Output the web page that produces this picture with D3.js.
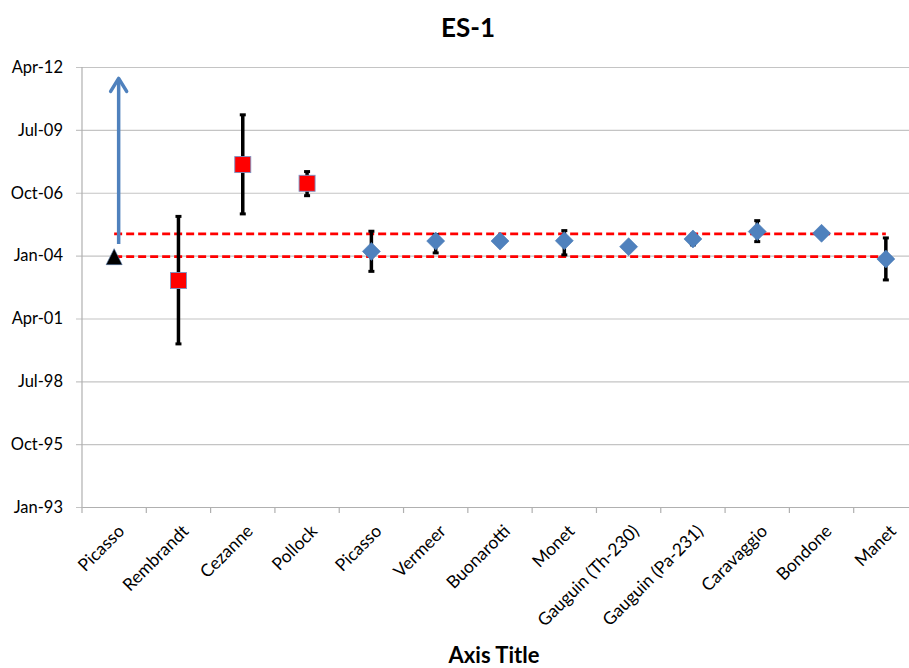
<!DOCTYPE html>
<html>
<head>
<meta charset="utf-8">
<script src="https://cdn.jsdelivr.net/npm/d3@7"></script>
<style>
  html, body { margin: 0; padding: 0; background: #fff; }
  svg { display: block; }
  text { font-family: Lato, "Open Sans", sans-serif; fill: #000; }
</style>
</head>
<body>
<svg id="chart" width="909" height="668"></svg>
<script>
// ---- data ----
const categories = ["Picasso","Rembrandt","Cezanne","Pollock","Picasso","Vermeer","Buonarotti","Monet","Gauguin (Th-230)","Gauguin (Pa-231)","Caravaggio","Bondone","Manet"];
const yTicks = ["1993-01-01","1995-10-01","1998-07-01","2001-04-01","2004-01-01","2006-10-01","2009-07-01","2012-04-01"];
const yDomain = ["1993-01-01","2012-04-01"];

// black triangle (category index 0)
const triangleIdx = [0];
const triangleVal = ["2003-12-15"];

// blue arrow (category index 0): from / to
const arrowIdx = [0];
const arrowFrom = ["2004-07-05"];
const arrowTo = ["2011-10-18"];

// red squares
const squareIdx = [1, 2, 3];
const squareVal = ["2002-11-28", "2007-12-25", "2007-03-01"];
const squareLow = ["2000-02-20", "2005-10-28", "2006-08-15"];
const squareHigh = ["2005-09-18", "2010-02-27", "2007-09-04"];

// blue diamonds
const diamondIdx = [4, 5, 6, 7, 8, 9, 10, 11, 12];
const diamondVal = ["2004-03-08","2004-08-20","2004-08-20","2004-08-25","2004-05-22","2004-09-22","2005-01-18","2004-12-22","2003-11-08"];
const diamondLow = ["2003-04-24","2004-02-13","2004-07-10","2004-01-12","2004-05-22","2004-06-20","2004-08-11","2004-11-20","2002-12-08"];
const diamondHigh = ["2005-01-24","2004-12-01","2004-10-01","2005-02-03","2004-05-22","2004-12-01","2005-07-12","2005-01-25","2004-10-09"];

// red dashed reference lines (from first to last category)
const refLines = ["2004-12-13", "2003-12-15"];
const refFromIdx = 0, refToIdx = 12;

// ---- drawing ----
const parse = d3.timeParse("%Y-%m-%d");
const svg = d3.select("#chart");
const L = 82, R = 918, T = 67, B = 507;

const x = d3.scaleBand().domain(d3.range(categories.length)).range([L, R]);
const cx = i => x(i) + x.bandwidth() / 2;
const y = d3.scaleTime().domain(yDomain.map(parse)).range([B, T]);

// gridlines + y axis
const yAxis = d3.axisLeft(y)
  .tickValues(yTicks.map(parse))
  .tickFormat(d3.timeFormat("%b-%y"))
  .tickSize(-(R - L))
  .tickSizeOuter(0)
  .tickPadding(19);
const gy = svg.append("g").attr("transform", `translate(${L},0)`).call(yAxis);
gy.select(".domain").remove();
gy.selectAll(".tick line").attr("stroke", "#c4c4c4").attr("stroke-width", 1.2).attr("x1", -6);
gy.selectAll(".tick text").attr("font-size", 16.5).attr("font-family", "Lato, sans-serif").attr("fill", "#000");
svg.append("line").attr("x1", L).attr("x2", L).attr("y1", T).attr("y2", B)
  .attr("stroke", "#b0b0b0").attr("stroke-width", 1.2);

// x axis
const xAxis = d3.axisBottom(x).tickFormat(i => categories[i]).tickSize(0).tickSizeOuter(0);
const gx = svg.append("g").attr("transform", `translate(0,${B})`).call(xAxis);
gx.select(".domain").attr("stroke", "#b0b0b0").attr("stroke-width", 1.2);
gx.selectAll(".tick text")
  .attr("font-size", 17.5).attr("font-family", "Lato, sans-serif").attr("fill", "#000")
  .attr("text-anchor", "end")
  .attr("transform", "translate(7,21) rotate(-45)")
  .attr("x", 0).attr("y", 0).attr("dy", "0.35em");
// tick marks between categories
const sep = d3.range(categories.length + 1).map(i => L + i * x.step());
svg.append("g").selectAll("line").data(sep).join("line")
  .attr("x1", d => d).attr("x2", d => d).attr("y1", B).attr("y2", B + 6)
  .attr("stroke", "#b0b0b0").attr("stroke-width", 1.2);

// red dashed reference lines
svg.append("g").selectAll("line").data(refLines).join("line")
  .attr("x1", cx(refFromIdx)).attr("x2", cx(refToIdx))
  .attr("y1", d => y(parse(d))).attr("y2", d => y(parse(d)))
  .attr("stroke", "#ff0000").attr("stroke-width", 2.8).attr("stroke-dasharray", "8,4");

// error bars helper
function errorBars(idx, lo, hi) {
  const g = svg.append("g");
  idx.forEach((ci, k) => {
    const y1 = y(parse(lo[k])), y2 = y(parse(hi[k]));
    if (Math.abs(y1 - y2) < 0.5) return;
    g.append("line").attr("x1", cx(ci)).attr("x2", cx(ci)).attr("y1", y1).attr("y2", y2)
      .attr("stroke", "#000").attr("stroke-width", 3.5);
    [y1, y2].forEach(v => g.append("line").attr("x1", cx(ci) - 3).attr("x2", cx(ci) + 3)
      .attr("y1", v).attr("y2", v).attr("stroke", "#000").attr("stroke-width", 3));
  });
}
errorBars(squareIdx, squareLow, squareHigh);
errorBars(diamondIdx, diamondLow, diamondHigh);

// arrow
const arrowColor = "#4f81bd";
arrowIdx.forEach((ci, k) => {
  const ax = cx(ci) + 4.5;
  const yb = y(parse(arrowFrom[k])), yt = y(parse(arrowTo[k]));
  svg.append("line").attr("x1", ax).attr("x2", ax).attr("y1", yb).attr("y2", yt + 2)
    .attr("stroke", arrowColor).attr("stroke-width", 3.5);
  svg.append("path").attr("d", `M${ax - 8},${yt + 14} L${ax},${yt + 1} L${ax + 8},${yt + 14}`)
    .attr("fill", "none").attr("stroke", arrowColor).attr("stroke-width", 3.5)
    .attr("stroke-linecap", "round").attr("stroke-linejoin", "round");
});

// triangle
svg.append("g").selectAll("path").data(triangleIdx).join("path")
  .attr("d", (ci, k) => {
    const px = cx(ci), py = y(parse(triangleVal[k]));
    return `M${px},${py - 8} L${px + 8},${py + 8} L${px - 8},${py + 8} Z`;
  })
  .attr("fill", "#000").attr("stroke", "#4a6fa0").attr("stroke-width", 0.6);

// squares
svg.append("g").selectAll("rect").data(squareIdx).join("rect")
  .attr("x", ci => cx(ci) - 8)
  .attr("y", (ci, k) => y(parse(squareVal[k])) - 8)
  .attr("width", 16).attr("height", 16)
  .attr("fill", "#ff0000").attr("stroke", "#7b93c4").attr("stroke-width", 0.9);

// diamonds
svg.append("g").selectAll("path").data(diamondIdx).join("path")
  .attr("d", (ci, k) => {
    const px = cx(ci), py = y(parse(diamondVal[k]));
    return `M${px},${py - 9} L${px + 9},${py} L${px},${py + 9} L${px - 9},${py} Z`;
  })
  .attr("fill", "#4f81bd").attr("stroke", "#4a7ab5").attr("stroke-width", 0.6);

// titles
svg.append("text").attr("x", 468).attr("y", 37).attr("text-anchor", "middle")
  .attr("font-size", 26).attr("font-weight", "bold").text("ES-1");
svg.append("text").attr("x", 494).attr("y", 663).attr("text-anchor", "middle")
  .attr("font-size", 22).attr("font-weight", "bold").text("Axis Title");
</script>
</body>
</html>
